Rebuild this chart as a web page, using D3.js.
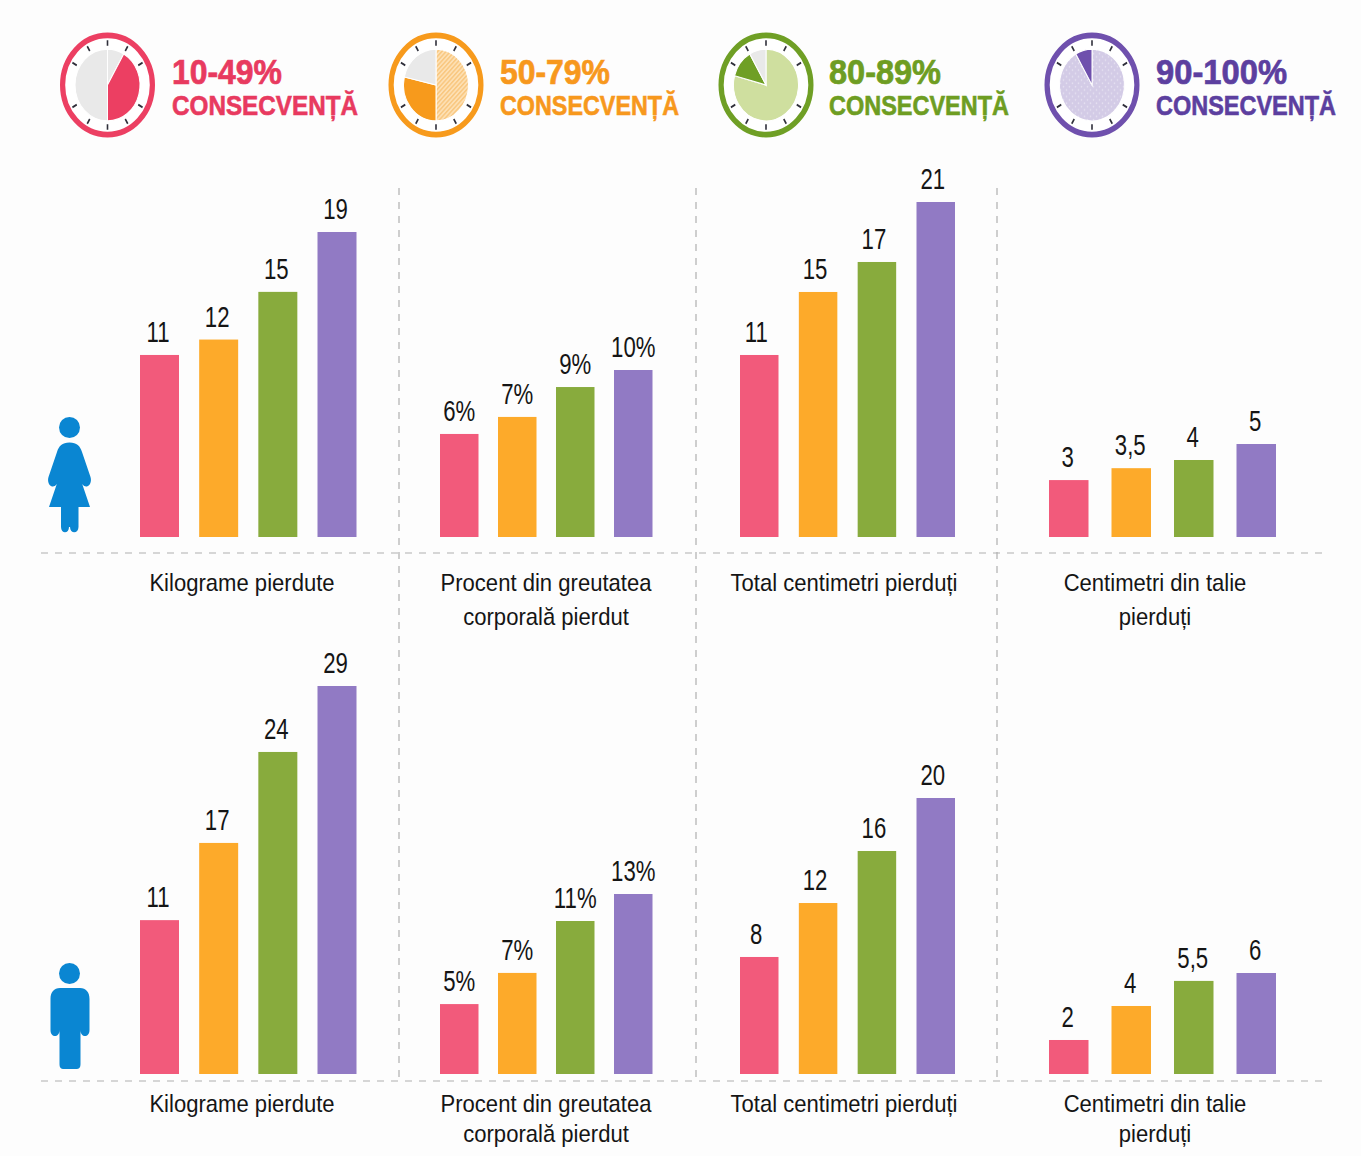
<!DOCTYPE html>
<html>
<head>
<meta charset="utf-8">
<script src="https://cdn.jsdelivr.net/npm/d3@7"></script>
<style>
  html, body { margin: 0; padding: 0; background: #fdfdfd; }
  svg { display: block; }
  text { font-family: "Liberation Sans", Arial, sans-serif; }
</style>
</head>
<body>
<div id="chart"></div>
<script>
//constants
const width = 1361;
const height = 1156;

//data
const groups = ["10-49%", "50-79%", "80-89%", "90-100%"];
const legendWord = "CONSECVENȚĂ";

const panelTitles = [
  ["Kilograme pierdute"],
  ["Procent din greutatea", "corporală pierdut"],
  ["Total centimetri pierduți"],
  ["Centimetri din talie", "pierduți"],
];

// bar values, the printed labels are rounded
const womenValues = [
  [11.34, 12.3, 15.27, 19],
  [6.17, 7.19, 8.98, 10],
  [11.41, 15.36, 17.24, 21],
  [3.06, 3.7, 4.14, 5],
];
const menValues = [
  [11.5, 17.27, 24.07, 29],
  [5.05, 7.3, 11.05, 13],
  [8.48, 12.39, 16.16, 20],
  [2.02, 4.04, 5.53, 6],
];
const womenLabels = [
  ["11", "12", "15", "19"],
  ["6%", "7%", "9%", "10%"],
  ["11", "15", "17", "21"],
  ["3", "3,5", "4", "5"],
];
const menLabels = [
  ["11", "17", "24", "29"],
  ["5%", "7%", "11%", "13%"],
  ["8", "12", "16", "20"],
  ["2", "4", "5,5", "6"],
];

// share of the clock face per slice, clockwise from 12 o'clock (degrees)
const clockSlices = [
  [{ deg: 30, kind: "rest" }, { deg: 150, kind: "solid" }, { deg: 180, kind: "rest" }],
  [{ deg: 180, kind: "light" }, { deg: 103, kind: "solid" }, { deg: 77, kind: "rest" }],
  [{ deg: 285, kind: "light" }, { deg: 45, kind: "solid" }, { deg: 30, kind: "rest" }],
  [{ deg: 330, kind: "light" }, { deg: 30, kind: "solid" }],
];

//colours
const barColors = ["#f25a7b", "#fdaa2a", "#88ab3d", "#917ac4"];
const ringColors = ["#ec3f62", "#f79a1c", "#6f9f25", "#6f50ad"];
const textColors = ["#e83a5f", "#f7981d", "#6e9d22", "#5c3f9f"];
const lightFills = ["#e8e8e8", "url(#hatch)", "#cfdf9f", "url(#dots)"];
const iconColor = "#0a86d2";

//layout
const columns = [
  { x0: 140, x1: 356.5, barW: 39, titleX: 242, labelDx: -1.5 },
  { x0: 440, x1: 652.5, barW: 38.5, titleX: 546, labelDx: 0 },
  { x0: 740, x1: 955, barW: 38.5, titleX: 844, labelDx: -3 },
  { x0: 1049, x1: 1276, barW: 39.5, titleX: 1155, labelDx: -1 },
];
const rows = [
  { values: womenValues, labels: womenLabels, base: 537, pxTop: [232, 370, 202, 444], rule: 553, titleY: [591, 625] },
  { values: menValues, labels: menLabels, base: 1074, pxTop: [686, 894, 798, 973], rule: 1081, titleY: [1112, 1142] },
];
const dividers = [399, 696, 997];
const clockX = [107.5, 436, 766, 1092];
const legendText = [
  { x: 172, numW: 110, wordW: 186 },
  { x: 500, numW: 110, wordW: 179 },
  { x: 829, numW: 112, wordW: 180 },
  { x: 1156, numW: 131, wordW: 180 },
];

const svg = d3
  .select("#chart")
  .append("svg")
  .attr("width", width)
  .attr("height", height);

init();

function init() {
  defs();
  legend();
  grid();
  rows.forEach(drawRow);
  woman();
  man();
}

function defs() {
  const d = svg.append("defs");
  const hatch = d
    .append("pattern")
    .attr("id", "hatch")
    .attr("width", 3)
    .attr("height", 3)
    .attr("patternUnits", "userSpaceOnUse")
    .attr("patternTransform", "rotate(45)");
  hatch.append("rect").attr("width", 3).attr("height", 3).attr("fill", "#fde0b4");
  hatch.append("rect").attr("width", 1.4).attr("height", 3).attr("fill", "#f9c77f");

  const dots = d
    .append("pattern")
    .attr("id", "dots")
    .attr("width", 6)
    .attr("height", 6)
    .attr("patternUnits", "userSpaceOnUse");
  dots.append("rect").attr("width", 6).attr("height", 6).attr("fill", "#d3cbe6");
  dots.append("circle").attr("cx", 1.5).attr("cy", 1.5).attr("r", 0.8).attr("fill", "#e4dff0");
  dots.append("circle").attr("cx", 4.5).attr("cy", 4.5).attr("r", 0.8).attr("fill", "#e4dff0");
}

function legend() {
  const pie = d3
    .pie()
    .sort(null)
    .value((d) => d.deg);
  const arc = d3.arc().innerRadius(0).outerRadius(32.5);
  const tickAngles = [0, 30, 60, 120, 150, 180, 210, 240, 300, 330];

  groups.forEach((name, i) => {
    // the clocks are a bit taller than wide
    const clock = svg
      .append("g")
      .attr("transform", `translate(${clockX[i]},85) scale(1,1.105)`);

    clock
      .append("circle")
      .attr("r", 44.9)
      .attr("fill", "#fff")
      .attr("stroke", ringColors[i])
      .attr("stroke-width", 5.2);

    clock
      .selectAll(".tick")
      .data(tickAngles)
      .join("line")
      .attr("x1", (a) => 35.5 * Math.sin((a * Math.PI) / 180))
      .attr("y1", (a) => -35.5 * Math.cos((a * Math.PI) / 180))
      .attr("x2", (a) => 40.5 * Math.sin((a * Math.PI) / 180))
      .attr("y2", (a) => -40.5 * Math.cos((a * Math.PI) / 180))
      .attr("stroke", "#2f2f3a")
      .attr("stroke-width", 1.6);

    clock
      .selectAll(".slice")
      .data(pie(clockSlices[i]))
      .join("path")
      .attr("d", arc)
      .attr("fill", (d) =>
        d.data.kind === "solid"
          ? ringColors[i]
          : d.data.kind === "light"
          ? lightFills[i]
          : "#e9e9e9"
      )
      .attr("stroke", "#fff")
      .attr("stroke-width", 1);

    const t = legendText[i];
    svg
      .append("text")
      .attr("x", t.x)
      .attr("y", 84)
      .attr("font-size", 35)
      .attr("font-family", "Roboto")
      .attr("font-weight", 700)
      .attr("fill", textColors[i])
      .attr("stroke", textColors[i])
      .attr("stroke-width", 0.7)
      .attr("textLength", t.numW)
      .attr("lengthAdjust", "spacingAndGlyphs")
      .text(name);

    svg
      .append("text")
      .attr("x", t.x)
      .attr("y", 115)
      .attr("font-size", 27)
      .attr("font-family", "Roboto")
      .attr("font-weight", 700)
      .attr("fill", textColors[i])
      .attr("stroke", textColors[i])
      .attr("stroke-width", 0.6)
      .attr("textLength", t.wordW)
      .attr("lengthAdjust", "spacingAndGlyphs")
      .text(legendWord);
  });
}

function grid() {
  const dashed = (sel) =>
    sel.attr("stroke", "#b0b0b0").attr("stroke-width", 1.2).attr("stroke-dasharray", "7 7");

  svg
    .selectAll(".rule")
    .data(rows)
    .join("line")
    .attr("x1", 41)
    .attr("x2", 1326)
    .attr("y1", (d) => d.rule)
    .attr("y2", (d) => d.rule)
    .call(dashed);

  svg
    .selectAll(".divider")
    .data(dividers)
    .join("line")
    .attr("x1", (d) => d)
    .attr("x2", (d) => d)
    .attr("y1", 188)
    .attr("y2", 1081)
    .call(dashed);
}

function drawRow(row) {
  columns.forEach((col, c) => {
    const values = row.values[c];

    const x = d3
      .scaleBand()
      .domain(groups)
      .range([col.x0, col.x1])
      .paddingInner(1 - col.barW / ((col.x1 - col.x0 - col.barW) / 3));

    const y = d3
      .scaleLinear()
      .domain([0, d3.max(values)])
      .range([row.base, row.pxTop[c]]);

    const g = svg.append("g");

    g.selectAll("rect")
      .data(values)
      .join("rect")
      .attr("x", (d, i) => x(groups[i]))
      .attr("y", (d) => y(d))
      .attr("width", x.bandwidth())
      .attr("height", (d) => row.base - y(d))
      .attr("fill", (d, i) => barColors[i]);

    // labels are squeezed like the original's condensed face
    g.selectAll("text")
      .data(values)
      .join("text")
      .attr(
        "transform",
        (d, i) =>
          `translate(${x(groups[i]) + x.bandwidth() / 2 + col.labelDx},${y(d) - 13}) scale(0.74,1)`
      )
      .attr("text-anchor", "middle")
      .attr("font-size", 30)
      .attr("fill", "#151515")
      .text((d, i) => row.labels[c][i]);

    svg
      .selectAll(null)
      .data(panelTitles[c])
      .join("text")
      .attr(
        "transform",
        (d, i) => `translate(${col.titleX},${row.titleY[i]}) scale(0.92,1)`
      )
      .attr("text-anchor", "middle")
      .attr("font-size", 24)
      .attr("fill", "#151515")
      .text((d) => d);
  });
}

function woman() {
  const g = svg.append("g").attr("fill", iconColor);
  g.append("circle").attr("cx", 69.5).attr("cy", 427.5).attr("r", 10.5);
  g.append("path").attr(
    "d",
    "M69.5 442.5 C62 442.5 59 446 57 452 L48.5 477 C47 482 49.5 486.5 53 486.5 C55.5 486.5 57 484 58 481 L59.5 476 L49 507 L61 507 L61 527 C61 534 69 534 69 527 L70 527 C70 534 78.5 534 78.5 527 L78.5 507 L90 507 L79.5 476 L81 481 C82 484 83.5 486.5 86 486.5 C89.5 486.5 92 482 90.5 477 L82 452 C80 446 77 442.5 69.5 442.5 Z"
  );
}

function man() {
  const g = svg.append("g").attr("fill", iconColor);
  g.append("circle").attr("cx", 69.5).attr("cy", 973.5).attr("r", 10.5);
  g.append("path").attr(
    "d",
    "M60 988 C54 988 50.5 992 50.5 999 L50.5 1030 C50.5 1038 59.5 1038 59.5 1030 L59.5 1064 C59.5 1068 61 1069 64 1069 L76 1069 C79 1069 80.5 1068 80.5 1064 L80.5 1030 C80.5 1038 89.5 1038 89.5 1030 L89.5 999 C89.5 992 86 988 80 988 Z"
  );
}
</script>
</body>
</html>
